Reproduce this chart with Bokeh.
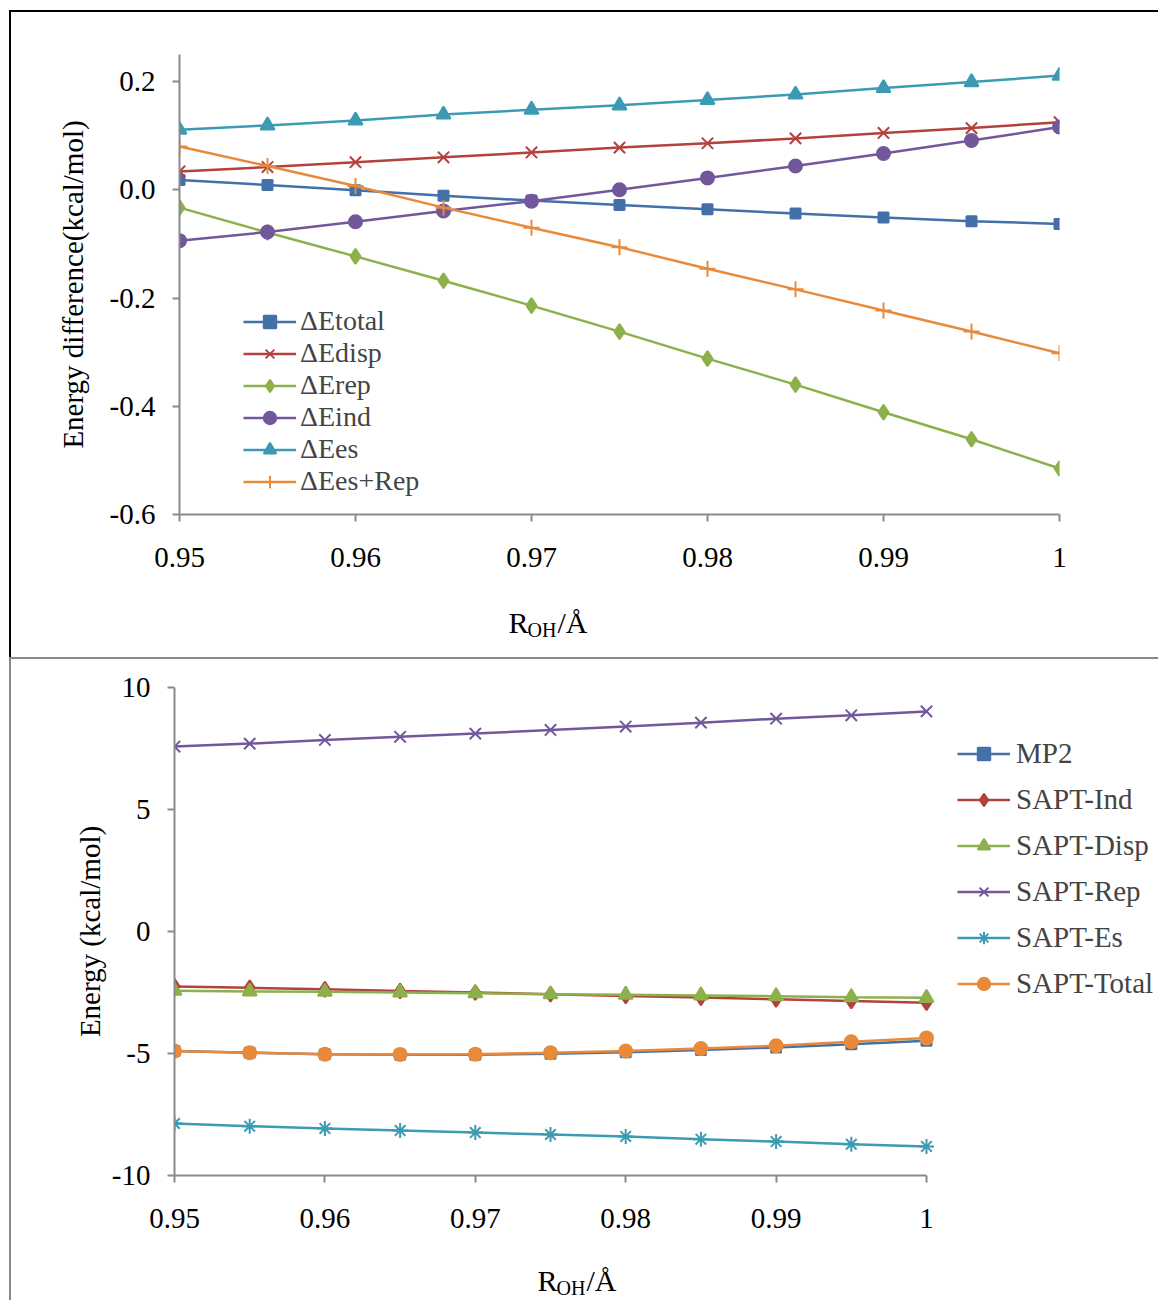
import math
from bokeh.plotting import figure
from bokeh.models import Legend, LegendItem, Label, FixedTicker, Range1d
from bokeh.embed import file_html
from bokeh.resources import INLINE

# ---------------- data ----------------
r_oh = [0.95, 0.955, 0.96, 0.965, 0.97, 0.975, 0.98, 0.985, 0.99, 0.995, 1.0]

# top panel: energy differences (kcal/mol)
de_total = [0.018, 0.009, -0.001, -0.011, -0.020, -0.028, -0.036, -0.044, -0.051, -0.058, -0.063]
de_disp = [0.034, 0.042, 0.051, 0.060, 0.069, 0.078, 0.086, 0.095, 0.105, 0.114, 0.125]
de_rep = [-0.033, -0.079, -0.123, -0.168, -0.214, -0.262, -0.312, -0.360, -0.411, -0.461, -0.515]
de_ind = [-0.094, -0.078, -0.059, -0.039, -0.021, 0.000, 0.022, 0.044, 0.067, 0.091, 0.116]
de_es = [0.111, 0.119, 0.128, 0.139, 0.148, 0.156, 0.166, 0.176, 0.188, 0.199, 0.211]
de_es_rep = [0.080, 0.044, 0.007, -0.033, -0.070, -0.106, -0.146, -0.184, -0.223, -0.262, -0.302]

# bottom panel: energies (kcal/mol)
mp2 = [-4.90, -4.97, -5.03, -5.05, -5.05, -5.01, -4.95, -4.86, -4.75, -4.62, -4.48]
sapt_ind = [-2.25, -2.31, -2.37, -2.44, -2.50, -2.57, -2.64, -2.71, -2.78, -2.85, -2.92]
sapt_disp = [-2.43, -2.46, -2.47, -2.50, -2.53, -2.57, -2.59, -2.62, -2.65, -2.69, -2.72]
sapt_rep = [7.58, 7.70, 7.85, 7.98, 8.11, 8.26, 8.40, 8.56, 8.72, 8.86, 9.02]
sapt_es = [-7.87, -7.98, -8.07, -8.16, -8.24, -8.32, -8.40, -8.51, -8.61, -8.72, -8.81]
sapt_total = [-4.90, -4.97, -5.03, -5.04, -5.03, -4.97, -4.90, -4.80, -4.68, -4.52, -4.36]

x_ticks = [0.95, 0.96, 0.97, 0.98, 0.99, 1.0]
x_tick_labels = ["0.95", "0.96", "0.97", "0.98", "0.99", "1"]
top_y_ticks = [-0.6, -0.4, -0.2, 0.0, 0.2]
top_y_labels = ["-0.6", "-0.4", "-0.2", "0.0", "0.2"]
bot_y_ticks = [-10, -5, 0, 5, 10]
bot_y_labels = ["-10", "-5", "0", "5", "10"]

FONT = "Liberation Serif"
AX = "#8a8a8a"
BLUE = "#4370A8"
RED = "#B3413D"
GREEN = "#8CB04A"
PURPLE = "#72579B"
CYAN = "#3C9AB3"
ORANGE = "#E98A3B"


def style(p, yt, yl, ytitle, ystandoff):
    p.xaxis.ticker = FixedTicker(ticks=x_ticks)
    p.xaxis.major_label_overrides = {t: l for t, l in zip(x_ticks, x_tick_labels)}
    p.xaxis.bounds = (x_ticks[0], x_ticks[-1])
    p.yaxis.ticker = FixedTicker(ticks=yt)
    p.yaxis.major_label_overrides = {t: l for t, l in zip(yt, yl)}
    for ax in (p.xaxis, p.yaxis):
        ax.axis_line_color = AX
        ax.axis_line_width = 2
        ax.major_tick_line_color = AX
        ax.major_tick_line_width = 2
        ax.major_tick_in = 0
        ax.major_tick_out = 7
        ax.minor_tick_line_color = None
        ax.major_label_text_font = FONT
        ax.major_label_text_font_size = "29px"
        ax.major_label_text_color = "black"
    p.xaxis.major_label_standoff = 26
    p.yaxis.major_label_standoff = 17
    p.yaxis.axis_label = ytitle
    p.yaxis.axis_label_text_font = FONT
    p.yaxis.axis_label_text_font_size = "29px"
    p.yaxis.axis_label_text_font_style = "normal"
    p.yaxis.axis_label_text_color = "black"
    p.yaxis.axis_label_standoff = ystandoff
    p.xgrid.grid_line_color = None
    p.ygrid.grid_line_color = None
    p.outline_line_color = None
    p.background_fill_color = "white"
    p.border_fill_color = "white"


def strip(h, border_color, pieces):
    s = figure(width=1149, height=h, x_range=Range1d(0, 1149), y_range=Range1d(0, h),
               x_axis_type=None, y_axis_type=None, output_backend="svg", toolbar_location=None,
               min_border=0)
    s.outline_line_color = None
    s.background_fill_color = "white"
    s.border_fill_color = "white"
    s.margin = (0, 0, 0, 9)
    s.styles = {"border-left": "2px solid " + border_color}
    for txt, x, y, fs in pieces:
        s.add_layout(Label(x=x, y=y, text=txt, text_align="left", text_baseline="alphabetic",
                           text_font=FONT, text_font_size=fs, text_color="black"))
    return s


# ---------------- top figure ----------------
p1 = figure(width=1149, height=568, x_range=Range1d(0.95, 1.0), y_range=Range1d(-0.6, 0.25),
            output_backend="svg", toolbar_location=None,
            min_border_left=168, min_border_right=101, min_border_top=42, min_border_bottom=66)
p1.margin = (10, 0, 0, 9)
p1.styles = {"border-left": "2px solid #000000", "border-top": "2px solid #000000"}
style(p1, top_y_ticks, top_y_labels, "Energy difference(kcal/mol)", 18)

top_series = [
    ("\u0394Etotal", de_total, BLUE, "square", 10),
    ("\u0394Edisp", de_disp, RED, "x", 16),
    ("\u0394Erep", de_rep, GREEN, "diamond", 15),
    ("\u0394Eind", de_ind, PURPLE, "circle", 13),
    ("\u0394Ees", de_es, CYAN, "triangle", 14),
    ("\u0394Ees+Rep", de_es_rep, ORANGE, "cross", 16),
]
items1 = []
for name, ys, c, m, s in top_series:
    ln = p1.line(r_oh, ys, line_color=c, line_width=2.5)
    sc = p1.scatter(r_oh, ys, marker=m, size=s, fill_color=c, line_color=c, line_width=2)
    items1.append(LegendItem(label=name, renderers=[ln, sc]))

leg1 = Legend(items=items1, location=(64, 17), label_text_font=FONT, label_text_font_size="28px",
              glyph_width=53, glyph_height=31, label_height=31, spacing=0, padding=0, margin=0,
              label_standoff=4, border_line_color=None, background_fill_alpha=0)
p1.add_layout(leg1)

s1 = strip(79, "#000000", [("R", 497, 35, "30px"), ("OH", 516, 28, "20px"), ("/\u00c5", 546, 35, "30px")])

# ---------------- bottom figure ----------------
# the frame reaches the right edge so the legend sits inside it; the x axis is bounded to 0.95..1
P2_LEFT = 163
P2_FRAME_AXIS = 752
P2_FRAME = 1149 - P2_LEFT
p2 = figure(width=1149, height=579,
            x_range=Range1d(0.95, 0.95 + 0.05 * P2_FRAME / P2_FRAME_AXIS), y_range=Range1d(-10, 10),
            output_backend="svg", toolbar_location=None,
            min_border_left=P2_LEFT, min_border_right=0, min_border_top=28, min_border_bottom=63)
p2.margin = (0, 0, 0, 9)
p2.styles = {"border-left": "2px solid #888888", "border-top": "2px solid #888888"}
style(p2, bot_y_ticks, bot_y_labels, "Energy (kcal/mol)", 3)

bot_series = [
    ("MP2", mp2, BLUE, "square", 10),
    ("SAPT-Ind", sapt_ind, RED, "diamond", 15),
    ("SAPT-Disp", sapt_disp, GREEN, "triangle", 14),
    ("SAPT-Rep", sapt_rep, PURPLE, "x", 16),
    ("SAPT-Es", sapt_es, CYAN, "asterisk", 15),
    ("SAPT-Total", sapt_total, ORANGE, "circle", 13),
]
items2 = []
for name, ys, c, m, s in bot_series:
    ln = p2.line(r_oh, ys, line_color=c, line_width=2.5)
    sc = p2.scatter(r_oh, ys, marker=m, size=s, fill_color=c, line_color=c, line_width=2)
    items2.append(LegendItem(label=name, renderers=[ln, sc]))

leg2 = Legend(items=items2, location=(783, 169), label_text_font=FONT, label_text_font_size="29px",
              glyph_width=53, glyph_height=31, label_height=46, spacing=0, padding=0, margin=0,
              label_standoff=6, border_line_color=None, background_fill_alpha=0)
p2.add_layout(leg2)

s2 = strip(64, "#888888", [("R", 526, 20, "30px"), ("OH", 545, 13, "20px"), ("/\u00c5", 575, 20, "30px")])

open("out.html", "w").write(file_html([p1, s1, p2, s2], INLINE))
